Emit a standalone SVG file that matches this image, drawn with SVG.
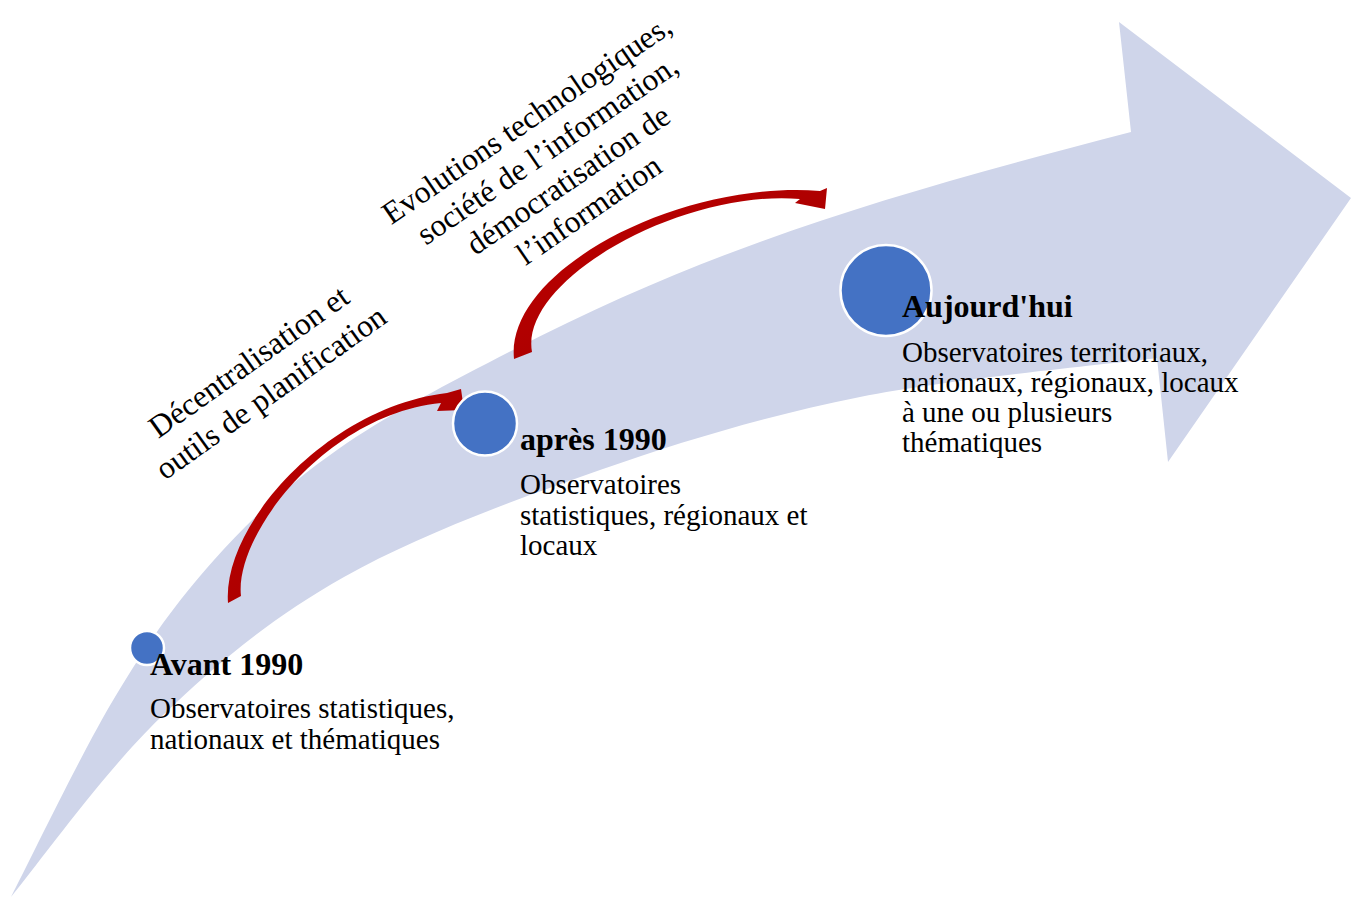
<svg xmlns="http://www.w3.org/2000/svg" width="1355" height="897" viewBox="0 0 1355 897">
<style>
.band{fill:#CFD5EA}
.dot{fill:#4472C4;stroke:#FFFFFF;stroke-width:2.5}
.red{fill:url(#redg)}
.t{font-family:"Liberation Serif","Times New Roman",serif;fill:#000}
.h{font-size:32px;font-weight:bold}
.b{font-size:29px}
.r{font-size:31.5px;text-anchor:middle}
</style>
<defs>
<linearGradient id="redg" x1="0" y1="0" x2="1" y2="1">
<stop offset="0" stop-color="#C00000"/>
<stop offset="1" stop-color="#9E0000"/>
</linearGradient>
</defs>
<rect width="1355" height="897" fill="#FFFFFF"/>
<g id="timeline-arrow">
<path class="band" d="M11,897 C28.3,863.7 81.2,753.2 115,697 C148.8,640.8 177,601.2 214,560 C251,518.8 287.2,485 337,450 C386.8,415 452.5,381.2 513,350 C713,246.8 881,197 1131,132 L1119,22 L1351,198 L1168,462 L1157,358 C1107.5,364.5 952.8,378.3 860,397 C767.2,415.7 686,440 600,470 C514,500 417.3,535.7 344,577 C270.7,618.3 215.5,664.7 160,718 C104.5,771.3 35.8,867.2 11,897 Z"/>
</g>
<g id="connectors">
<path class="red" d="M228,603 C222,525 328,407 447,393 L461,389 L464,410 L437,411 L441,403 C327,414 234,535 241,596 Z"/>
<path class="red" d="M514,359 C505,270 680,180 820,191 L827,188 L825,209 L795,203 L800,199 C682,189 519,280 532,352 Z"/>
</g>
<g id="label-decentralisation" transform="translate(249,362) rotate(-35.5)">
<text class="t r" x="0" y="10">Décentralisation et</text>
<text class="t r" x="0" y="48">outils de planification</text>
</g>
<g id="label-evolutions" transform="translate(527,120) rotate(-34.5)">
<text class="t r" x="0" y="10">Evolutions technologiques,</text>
<text class="t r" x="0" y="46.5">société de l’information,</text>
<text class="t r" x="0" y="83">démocratisation de</text>
<text class="t r" x="0" y="119.5">l’information</text>
</g>
<g id="node-avant">
<circle class="dot" cx="147" cy="648" r="17"/>
<text class="t h" x="150" y="675">Avant 1990</text>
<text class="t b" x="150" y="718">Observatoires statistiques,</text>
<text class="t b" x="150" y="749">nationaux et thématiques</text>
</g>
<g id="node-apres">
<circle class="dot" cx="485" cy="423.5" r="32"/>
<text class="t h" x="520" y="450">après 1990</text>
<text class="t b" x="520" y="494">Observatoires</text>
<text class="t b" x="520" y="524.5">statistiques, régionaux et</text>
<text class="t b" x="520" y="555">locaux</text>
</g>
<g id="node-aujourdhui">
<circle class="dot" cx="886" cy="290.5" r="45.5"/>
<text class="t h" x="902" y="317">Aujourd'hui</text>
<text class="t b" x="902" y="362">Observatoires territoriaux,</text>
<text class="t b" x="902" y="392">nationaux, régionaux, locaux</text>
<text class="t b" x="902" y="422">à une ou plusieurs</text>
<text class="t b" x="902" y="452">thématiques</text>
</g>
</svg>
